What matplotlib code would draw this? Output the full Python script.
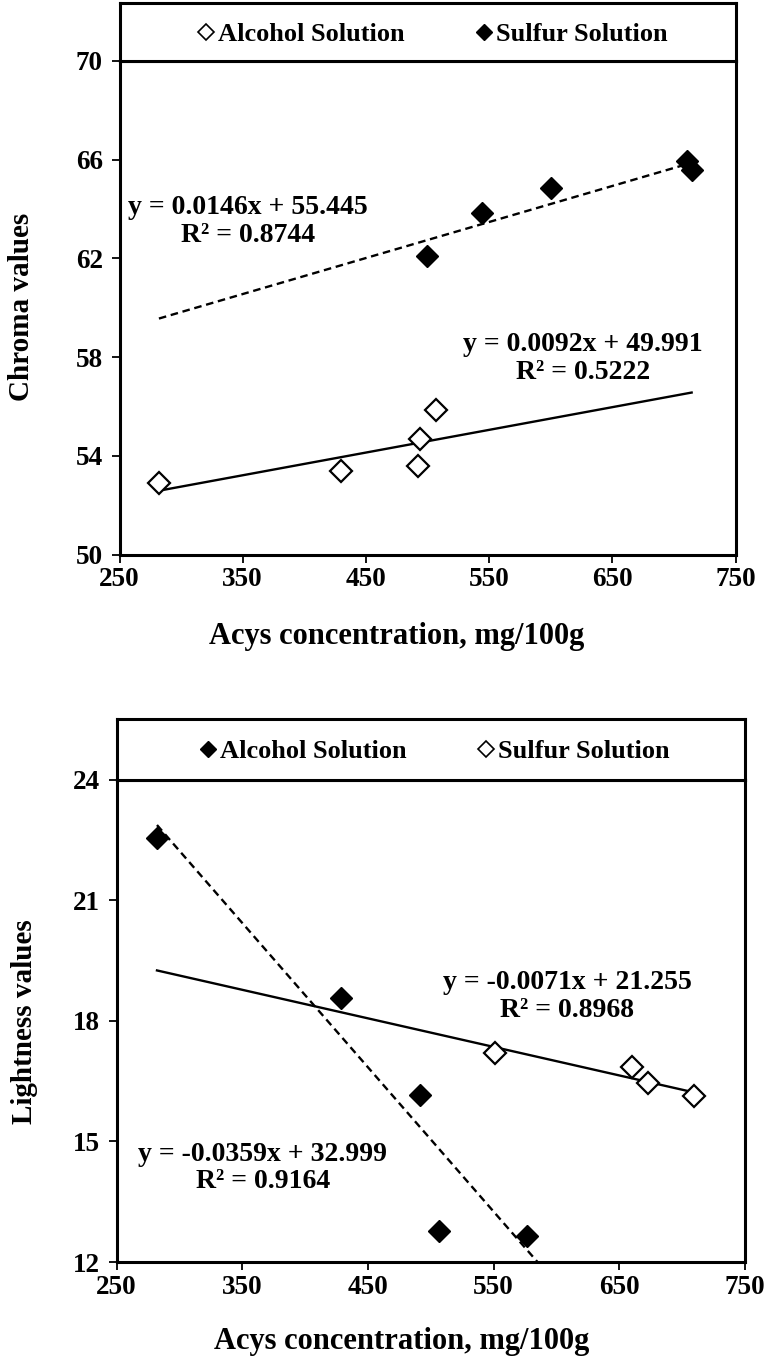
import matplotlib
matplotlib.use("Agg")
import matplotlib.pyplot as plt
from matplotlib.lines import Line2D
import numpy as np

plt.rcParams['font.family'] = ['Liberation Serif', 'DejaVu Serif']
plt.rcParams['font.weight'] = 'bold'

# ---------------- data ----------------
# Chart 1: Chroma
chroma_alcohol_x = [282, 429.6, 492, 494, 507]
chroma_alcohol_y = [52.9, 53.37, 53.57, 54.69, 55.86]
chroma_sulfur_x = [499.3, 544.5, 600.5, 710.3, 714.4]
chroma_sulfur_y = [62.09, 63.86, 64.87, 65.95, 65.57]
chroma_alcohol_fit = [0.0092, 49.991]
chroma_sulfur_fit = [0.0146, 55.445]
chroma_alcohol_eq = "y = 0.0092x + 49.991\nR² = 0.5222"
chroma_sulfur_eq = "y = 0.0146x + 55.445\nR² = 0.8744"

# Chart 2: Lightness
light_alcohol_x = [282.2, 428.4, 491.7, 506.6, 576.7]
light_alcohol_y = [22.55, 18.56, 16.16, 12.77, 12.65]
light_sulfur_x = [551.3, 660.3, 672.8, 709.3]
light_sulfur_y = [17.21, 16.84, 16.45, 16.12]
light_alcohol_fit = [-0.0359, 32.999]
light_sulfur_fit = [-0.0071, 21.255]
light_alcohol_eq = "y = -0.0359x + 32.999\nR² = 0.9164"
light_sulfur_eq = "y = -0.0071x + 21.255\nR² = 0.8968"

x_ticks = [250, 350, 450, 550, 650, 750]
chroma_ticks = [50, 54, 58, 62, 66, 70]
light_ticks = [12, 15, 18, 21, 24]
xlabel = "Acys concentration, mg/100g"
legend_labels = ["Alcohol Solution", "Sulfur Solution"]

W, H = 767, 1358
fig = plt.figure(figsize=(W / 100, H / 100), dpi=100)

FS = 19.5
EQFS = 20
SPW = 2.2
MS = 11


def fr(x0, y_top, x1, y_bot):
    return [x0 / W, 1 - y_bot / H, (x1 - x0) / W, (y_bot - y_top) / H]


def style_axes(ax):
    for s in ax.spines.values():
        s.set_linewidth(SPW)
        s.set_color('black')
    ax.tick_params(axis='both', direction='out', length=6, width=1.3,
                   labelsize=FS, colors='black')
    ax.tick_params(axis='x', pad=3)
    ax.tick_params(axis='y', pad=6)
    ax.tick_params(top=False, right=False)
    for lab in ax.get_xticklabels() + ax.get_yticklabels():
        lab.set_fontweight('bold')


def trend(ax, xs_all, fit, ls):
    xr = np.array([min(xs_all), max(xs_all)])
    ax.plot(xr, fit[0] * xr + fit[1], color='black', lw=1.7, ls=ls,
            dashes=(3.2, 2) if ls == '--' else (None, None), zorder=2)


def legend_box(rect, open_first, cx):
    axl = fig.add_axes(rect)
    axl.set_xticks([])
    axl.set_yticks([])
    for s in axl.spines.values():
        s.set_linewidth(SPW)
    open_h = Line2D([], [], marker='D', ms=8.5, mfc='white', mec='black',
                    mew=1.2, ls='none')
    fill_h = Line2D([], [], marker='D', ms=8.5, mfc='black', mec='black',
                    ls='none')
    handles = [open_h, fill_h] if open_first else [fill_h, open_h]
    axl.legend(handles, legend_labels, ncol=2, loc='center',
               frameon=False, prop={'size': 19, 'weight': 'bold'},
               handlelength=0.5, handletextpad=0.2, columnspacing=2.75,
               borderaxespad=0, bbox_to_anchor=(cx, 0.46))
    return axl


# ---------------- top chart ----------------
ax1 = fig.add_axes(fr(119.5, 61, 735.5, 554.5))
trend(ax1, chroma_alcohol_x + chroma_sulfur_x, chroma_sulfur_fit, '--')
trend(ax1, chroma_alcohol_x + chroma_sulfur_x, chroma_alcohol_fit, '-')
ax1.plot(chroma_alcohol_x, chroma_alcohol_y, ls='none', marker='D', ms=MS,
         mfc='white', mec='black', mew=1.6, zorder=3)
ax1.plot(chroma_sulfur_x, chroma_sulfur_y, ls='none', marker='D', ms=MS,
         mfc='black', mec='black', zorder=3)
ax1.set_xlim(250, 750)
ax1.set_ylim(50, 70)
ax1.set_xticks(x_ticks)
ax1.set_yticks(chroma_ticks)
style_axes(ax1)
ax1.text(354, 63.49, chroma_sulfur_eq, ha='center', va='center',
         fontsize=EQFS, fontweight='bold', linespacing=1.12)
ax1.text(626, 57.94, chroma_alcohol_eq, ha='center', va='center',
         fontsize=EQFS, fontweight='bold', linespacing=1.12)
legend_box(fr(119.5, 2.7, 735.5, 61), True, 0.5097)

fig.text(397 / W, 1 - 636.7 / H, xlabel, ha='center', va='center',
         fontsize=22, fontweight='bold')
fig.text(22 / W, 1 - 307 / H, "Chroma values", rotation=90, ha='center',
         va='center', fontsize=21, fontweight='bold')

# ---------------- bottom chart ----------------
ax2 = fig.add_axes(fr(116.5, 779.5, 745, 1262))
trend(ax2, light_alcohol_x + light_sulfur_x, light_alcohol_fit, '--')
trend(ax2, light_alcohol_x + light_sulfur_x, light_sulfur_fit, '-')
ax2.plot(light_alcohol_x, light_alcohol_y, ls='none', marker='D', ms=MS,
         mfc='black', mec='black', zorder=3)
ax2.plot(light_sulfur_x, light_sulfur_y, ls='none', marker='D', ms=MS,
         mfc='white', mec='black', mew=1.6, zorder=3)
ax2.set_xlim(250, 750)
ax2.set_ylim(12, 24)
ax2.set_xticks(x_ticks)
ax2.set_yticks(light_ticks)
style_axes(ax2)
ax2.text(608.5, 18.6, light_sulfur_eq, ha='center', va='center',
         fontsize=EQFS, fontweight='bold', linespacing=1.12)
ax2.text(366.4, 14.33, light_alcohol_eq, ha='center', va='center',
         fontsize=EQFS, fontweight='bold', linespacing=1.12)
legend_box(fr(116.5, 719, 745, 779.5), False, 0.5076)

fig.text(401.6 / W, 1 - 1341.7 / H, xlabel, ha='center', va='center',
         fontsize=22, fontweight='bold')
fig.text(24 / W, 1 - 1022 / H, "Lightness values", rotation=90,
         ha='center', va='center', fontsize=21, fontweight='bold')

fig.savefig("out.png", dpi=100)
